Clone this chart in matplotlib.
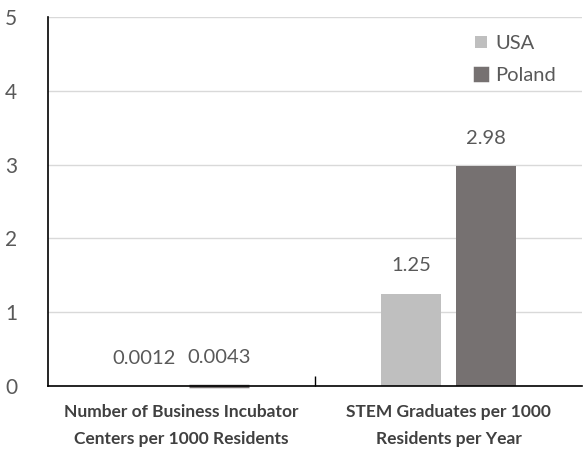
import numpy as np
import matplotlib.pyplot as plt
from matplotlib.ticker import FixedLocator

categories = ["Number of Business Incubator\nCenters per 1000 Residents",
              "STEM Graduates per 1000\nResidents per Year"]
usa = [0.0012, 1.25]
poland = [0.0043, 2.98]
usa_labels = ["0.0012", "1.25"]
poland_labels = ["0.0043", "2.98"]

USA_COLOR = "#bfbfbf"
POLAND_COLOR = "#767171"
TEXT_COLOR = "#595959"

plt.rcParams['font.family'] = ['Lato', 'DejaVu Sans']

fig = plt.figure(figsize=(5.84, 4.57), dpi=100)
ax = fig.add_axes([0.082, 0.155, 0.915, 0.808])

x = np.arange(len(categories))
width = 0.225
offset = 0.14

b1 = ax.bar(x - offset, usa, width, color=USA_COLOR, label="USA", zorder=3)
b2 = ax.bar(x + offset, poland, width, color=POLAND_COLOR, label="Poland", zorder=3)
# tiny value would vanish at this scale, give the bar an outline
b2[0].set_edgecolor(POLAND_COLOR)
b2[0].set_linewidth(2.5)
b2[0].set_clip_on(False)
b2[0].set_zorder(4)

for bars, labels in ((b1, usa_labels), (b2, poland_labels)):
    for bar, lab in zip(bars, labels):
        ax.annotate(lab, (bar.get_x() + bar.get_width() / 2, bar.get_height()),
                    xytext=(0, 14), textcoords="offset points",
                    ha="center", va="bottom", fontsize=14.5, color=TEXT_COLOR)

ax.set_xlim(-0.5, 1.5)
ax.set_ylim(0, 5)
ax.set_yticks(range(6))
ax.yaxis.grid(True, color="#d9d9d9", linewidth=1, zorder=0)
ax.set_axisbelow(True)

ax.set_xticks(x)
ax.set_xticklabels(categories, fontsize=12.5, fontweight="bold", color="#404040",
                   linespacing=1.85)
ax.tick_params(axis="x", length=0, pad=13)
ax.xaxis.set_minor_locator(FixedLocator([0.5]))
ax.tick_params(axis="x", which="minor", direction="in", length=7, width=1, color="black")
ax.tick_params(axis="y", length=0, pad=22, labelsize=15, labelcolor=TEXT_COLOR)

for side in ("top", "right"):
    ax.spines[side].set_visible(False)
for side in ("left", "bottom"):
    ax.spines[side].set_color("black")
    ax.spines[side].set_linewidth(1.2)
    ax.spines[side].set_zorder(5)

leg = ax.legend(loc="upper right", bbox_to_anchor=(0.985, 1.0), frameon=False,
                fontsize=14.5, handlelength=0.6, handleheight=0.6,
                handletextpad=0.4, labelspacing=0.75, labelcolor=TEXT_COLOR)

fig.savefig("out.png", dpi=100)
